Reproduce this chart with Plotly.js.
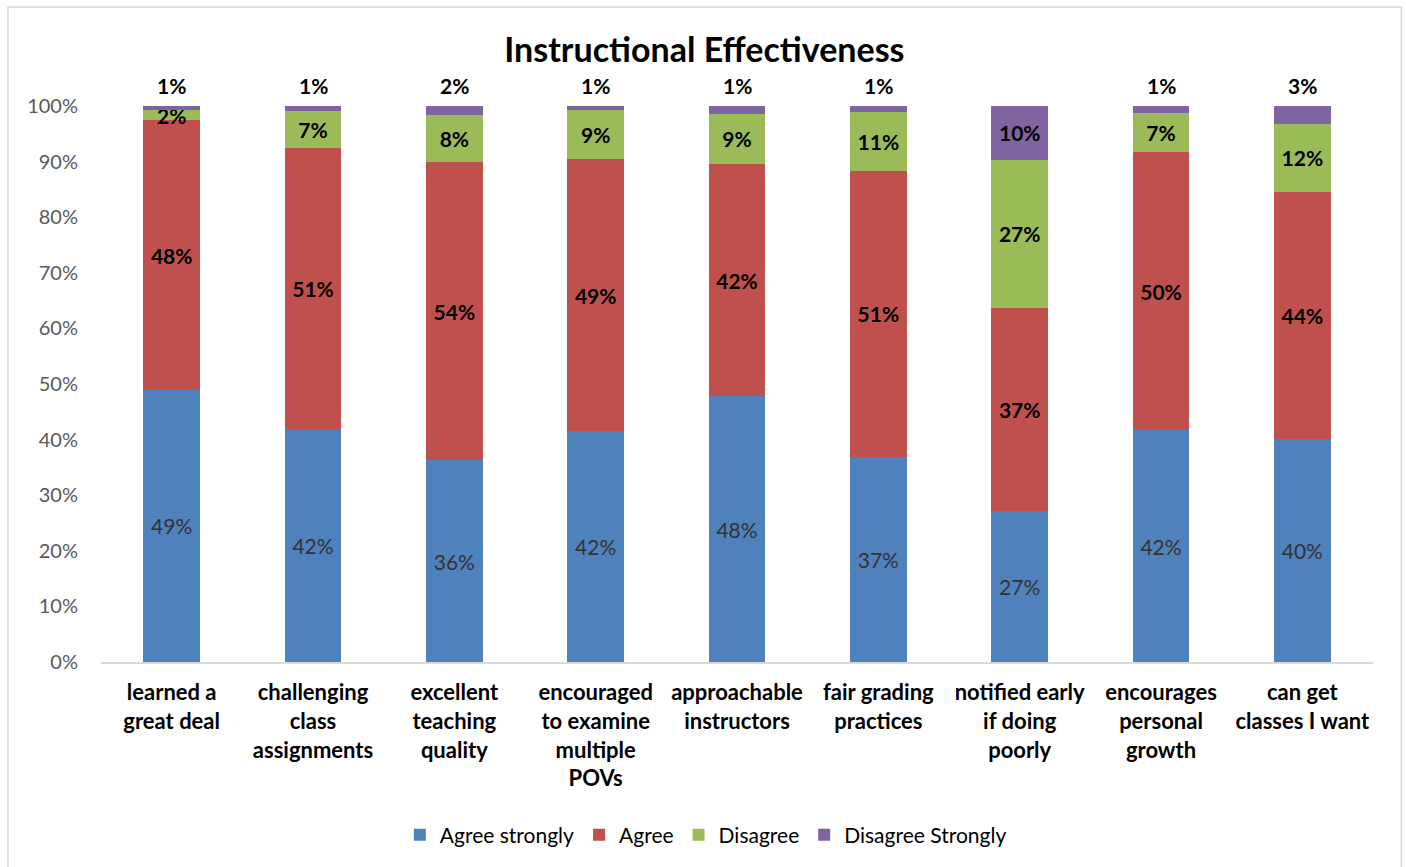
<!DOCTYPE html>
<html>
<head>
<meta charset="utf-8">
<script src="https://cdn.plot.ly/plotly-3.0.1.min.js"></script>
<style>html,body{margin:0;padding:0;background:#fff;}#chart{width:1406px;height:867px;}</style>
</head>
<body>
<div id="chart"></div>
<script>
const categories = [
  "learned a<br>great deal",
  "challenging<br>class<br>assignments",
  "excellent<br>teaching<br>quality",
  "encouraged<br>to examine<br>multiple<br>POVs",
  "approachable<br>instructors",
  "fair grading<br>practices",
  "notified early<br>if doing<br>poorly",
  "encourages<br>personal<br>growth",
  "can get<br>classes I want"
];
const agreeStrongly    = [49.0, 41.9, 36.3, 41.5, 47.8, 36.9, 27.1, 41.7, 40.1];
const agree            = [48.4, 50.6, 53.6, 48.9, 41.8, 51.4, 36.6, 50.0, 44.4];
const disagree         = [1.9, 6.6, 8.4, 8.8, 9.0, 10.7, 26.6, 7.0, 12.3];
const disagreeStrongly = [0.7, 0.9, 1.7, 0.8, 1.4, 1.0, 9.7, 1.3, 3.2];
const seriesNames = ["Agree strongly", "Agree", "Disagree", "Disagree Strongly"];
const yTickVals = [0,10,20,30,40,50,60,70,80,90,100];
const yTickText = ["0%","10%","20%","30%","40%","50%","60%","70%","80%","90%","100%"];

const FONT = "Lato, 'Open Sans', sans-serif";
const colors = ["#4F81BD", "#C0504D", "#9BBB59", "#8064A2"];
const seriesVals = [agreeStrongly, agree, disagree, disagreeStrongly];
const LABEL_SIZE = 21;
const Y_MAX = 100;

const traces = seriesVals.map((vals, i) => {
  const bold = i > 0;
  const t = {
    type: "bar",
    name: seriesNames[i],
    x: categories,
    y: vals,
    marker: {color: colors[i], line: {width: 0}},
    cliponaxis: false,
    hoverinfo: "name+y"
  };
  if (i < 3) {
    t.text = vals.map(v => (bold ? "<b>" : "") + Math.round(v) + "%" + (bold ? "</b>" : ""));
    t.texttemplate = "%{text}";
    t.textposition = "inside";
    t.insidetextanchor = "middle";
    t.constraintext = "none";
    t.insidetextfont = {family: FONT, size: LABEL_SIZE, color: bold ? "#000000" : "#333333"};
  } else {
    t.textposition = "none";
  }
  return t;
});

// Disagree Strongly labels (above bar, or inside when the segment is tall enough)
const annotations = disagreeStrongly.map((v, i) => {
  const total = Math.min(Y_MAX, agreeStrongly[i] + agree[i] + disagree[i] + v);
  const inside = v >= 5;
  return {
    x: categories[i],
    y: inside ? total - v / 2 : total,
    xref: "x", yref: "y",
    text: "<b>" + Math.round(v) + "%</b>",
    showarrow: false,
    yanchor: inside ? "middle" : "bottom",
    yshift: inside ? 0 : 6,
    font: {family: FONT, size: LABEL_SIZE, color: "#000000"}
  };
});

const L = 101, R = 33.4, T = 106, B = 205;
const pw = 1406 - L - R, ph = 867 - T - B;
const px = p => (p - L) / pw;
const py = p => (867 - B - p) / ph;

const layout = {
  width: 1406, height: 867,
  margin: {l: L, r: R, t: T, b: B, pad: 0},
  paper_bgcolor: "#ffffff",
  plot_bgcolor: "#ffffff",
  barmode: "stack",
  bargap: 0.597,
  font: {family: FONT, color: "#000000"},
  title: {
    text: "<b>Instructional Effectiveness</b>",
    font: {family: FONT, size: 34, color: "#000000"},
    xref: "container", x: 0.501, xanchor: "center",
    yref: "container", y: 1 - 50/867, yanchor: "middle"
  },
  xaxis: {
    type: "category",
    showgrid: false,
    zeroline: false,
    showline: true,
    linecolor: "#d9d9d9",
    linewidth: 2,
    ticks: "",
    ticklabelstandoff: 10,
    tickfont: {family: FONT, size: 22, color: "#000000"},
    tickprefix: "<b>", ticksuffix: "</b>",
    automargin: false
  },
  yaxis: {
    range: [0, Y_MAX],
    tickvals: yTickVals,
    ticktext: yTickText,
    showgrid: false,
    zeroline: false,
    showline: false,
    ticks: "",
    ticklabelstandoff: 22,
    tickfont: {family: FONT, size: 20, color: "#595959"},
    automargin: false,
    fixedrange: true
  },
  legend: {
    orientation: "h",
    xref: "container", x: 0.502, xanchor: "center",
    yref: "container", y: (867 - 835) / 867, yanchor: "middle",
    font: {family: FONT, size: 21, color: "#000000"},
    traceorder: "normal",
    itemwidth: 30,
    tracegroupgap: 0
  },
  annotations: annotations,
  shapes: [{
    type: "rect", xref: "paper", yref: "paper",
    x0: px(8), x1: px(1401), y0: py(872), y1: py(7),
    line: {color: "#d9d9d9", width: 1.5},
    fillcolor: "rgba(0,0,0,0)",
    layer: "below"
  }],
  showlegend: true
};

Plotly.newPlot("chart", traces, layout, {displayModeBar: false, staticPlot: true});
</script>
</body>
</html>
